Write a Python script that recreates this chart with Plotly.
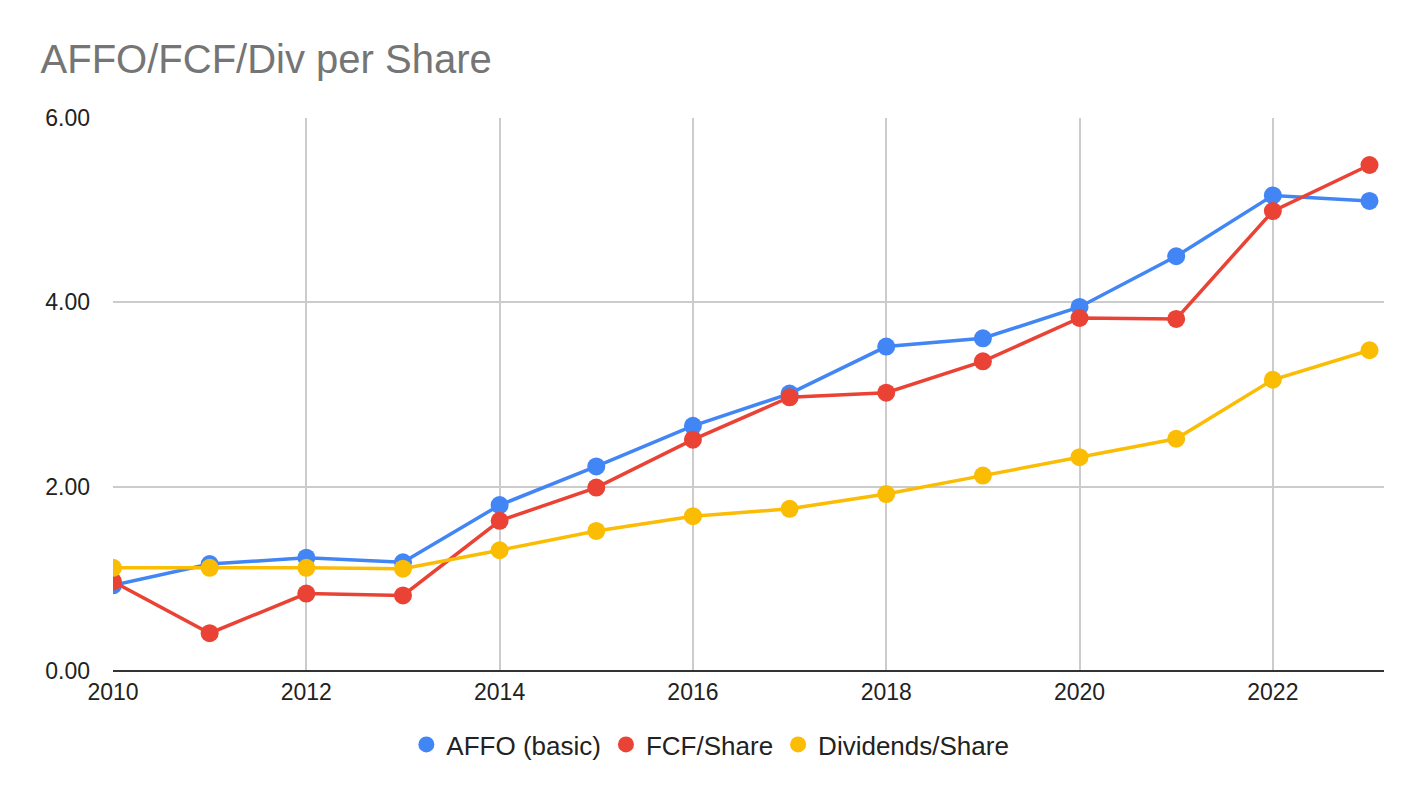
import plotly.graph_objects as go

years = list(range(2010, 2024))
affo = [0.93, 1.16, 1.23, 1.18, 1.80, 2.22, 2.66, 3.01, 3.52, 3.61, 3.95, 4.50, 5.16, 5.10]
fcf = [0.97, 0.41, 0.84, 0.82, 1.63, 1.99, 2.51, 2.97, 3.02, 3.36, 3.83, 3.82, 4.99, 5.49]
divs = [1.12, 1.12, 1.12, 1.11, 1.31, 1.52, 1.68, 1.76, 1.92, 2.12, 2.32, 2.52, 3.16, 3.48]

series = [
    ("AFFO (basic)", affo, "#4285F4"),
    ("FCF/Share", fcf, "#EA4335"),
    ("Dividends/Share", divs, "#FBBC04"),
]

fig = go.Figure()
for name, vals, col in series:
    fig.add_trace(go.Scatter(
        x=years, y=vals, name=name, mode="lines+markers",
        line=dict(color=col, width=3.5),
        marker=dict(color=col, size=18),
        showlegend=False,
    ))
# legend shows only circles, like the original
for name, vals, col in series:
    fig.add_trace(go.Scatter(
        x=[None], y=[None], name=name, mode="markers",
        marker=dict(color=col, size=24),
    ))

# page body has an 8px margin, so the figure starts at (8, 8)
fig.update_layout(
    width=1416, height=790,
    paper_bgcolor="white", plot_bgcolor="white",
    font=dict(family="Arial, Liberation Sans, sans-serif", size=22, color="#222222"),
    title=dict(text="AFFO/FCF/Div per Share", x=0.023, xanchor="left",
               y=0.935, yanchor="middle",
               font=dict(size=40, color="#757575")),
    margin=dict(l=105, r=40, t=110, b=127),
    legend=dict(orientation="h", x=0.47, xanchor="center", y=-0.133, yanchor="middle",
                font=dict(size=26, color="#222222"), itemsizing="trace"),
)
fig.update_xaxes(range=[2010, 2023.15], tickvals=list(range(2010, 2024, 2)),
                 showgrid=True, gridcolor="#cccccc", gridwidth=1.5,
                 zeroline=False, showline=False, ticks="",
                 tickfont=dict(size=23), ticklabelstandoff=5)
fig.update_yaxes(range=[0, 6], tickvals=[0, 2, 4, 6], tickformat=".2f",
                 showgrid=True, gridcolor="#cccccc", gridwidth=1.5,
                 zeroline=True, zerolinecolor="#333333", zerolinewidth=2,
                 showline=False, ticks="",
                 tickfont=dict(size=23), ticklabelstandoff=22)

fig.write_html("out.html")
